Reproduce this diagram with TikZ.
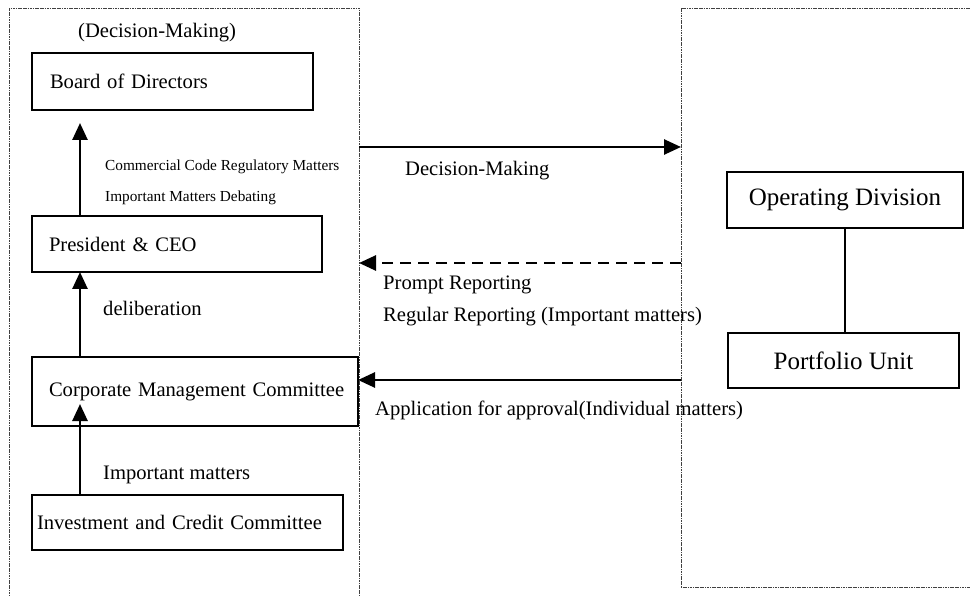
\documentclass[tikz,border=0pt]{standalone}
\usepackage{fontspec}
\setmainfont{Liberation Serif}
\usetikzlibrary{arrows.meta,calc}
\newcommand\fbig{\fontsize{20.6pt}{24pt}\selectfont}
\newcommand\fsml{\fontsize{15.3pt}{18pt}\selectfont}
\newcommand\frgt{\fontsize{25pt}{29pt}\selectfont}
\begin{document}
\begin{tikzpicture}[x=1pt,y=-1pt,
  box/.style={draw, line width=1.8pt, inner ysep=0pt, outer sep=0pt, align=left, font=\fbig},
  rbox/.style={draw, line width=1.8pt, inner sep=0pt, outer sep=0pt, align=center, font=\frgt},
  frame/.style={draw=black!75, line width=0.9pt, dash pattern=on 1.2pt off 0.5pt, inner sep=0pt, outer sep=0pt},
  arr/.style={line width=2.6pt, -{Triangle[length=17pt,width=15pt]}},
  lbl/.style={anchor=west, inner sep=0pt, font=\fbig, text height=0.7em, text depth=0.2em},
  slbl/.style={lbl, font=\fsml},
  dsh/.style={dash pattern=on 11pt off 7pt}
]
\useasboundingbox (0,0) rectangle (970,596);
\clip (0,0) rectangle (970,596);
\fill[white] (0,0) rectangle (970,596);

% frames
\node[frame, minimum width=350pt, minimum height=612pt] (lf) at (184,314) {};
\node[frame, minimum width=309pt, minimum height=579pt] (rf) at (835.5,297.5) {};

% left boxes
\node[box, text width=245pt, inner xsep=18pt, minimum height=57pt] (bod) at (172.5,81.5) {\mbox{Board of Directors}};
\node[box, text width=256pt, inner xsep=17pt, minimum height=56pt] (pres) at (177,244) {\mbox{President \& CEO}};
\node[box, text width=292pt, inner xsep=17pt, minimum height=69pt] (cmc) at (195,391.5) {\mbox{Corporate Management Committee}};
\node[box, text width=301pt, inner xsep=5pt, minimum height=55pt] (icc) at (187.5,522.5) {\mbox{Investment and Credit Committee}};

% right boxes
\node[rbox, minimum width=236pt, minimum height=56pt] (od) at (845,200) {Operating Division};
\node[rbox, minimum width=231pt, minimum height=55pt] (pu) at (843.5,360.5) {Portfolio Unit};
\draw[line width=1.8pt] (od.south) -- (od.south |- pu.north);

% vertical arrows
\draw[arr, shorten >=13pt] ([xshift=48pt]pres.north west) -- ([xshift=48pt]bod.south west);
\draw[arr] ([xshift=48pt]cmc.north west) -- ([xshift=48pt]pres.south west);
\draw[arr] ([xshift=48pt]icc.north west) -- ([xshift=48pt,yshift=22pt]cmc.south west);

% horizontal arrows
\coordinate (h1) at (0,147);
\coordinate (h2) at (0,263);
\coordinate (h3) at (0,380);
\draw[arr] (lf.east |- h1) -- (rf.west |- h1);
\draw[arr, dsh] (rf.west |- h2) -- (lf.east |- h2);
\draw[arr] (rf.west |- h3) -- (cmc.east |- h3);

% labels
\node[lbl] (t1) at (78,35) {(Decision-Making)};
\node[slbl] (t2) at (105,168) {Commercial Code Regulatory Matters};
\node[slbl] (t3) at (105,199) {Important Matters Debating};
\node[lbl] (t4) at (103,313) {deliberation};
\node[lbl] (t5) at (103,477) {Important matters};
\node[lbl] (t6) at (405,173) {Decision-Making};
\node[lbl] (t7) at (383,287) {Prompt Reporting};
\node[lbl] (t8) at (383,319) {Regular Reporting (Important matters)};
\node[lbl] (t9) at (375,413) {Application for approval(Individual matters)};
\end{tikzpicture}
\end{document}
